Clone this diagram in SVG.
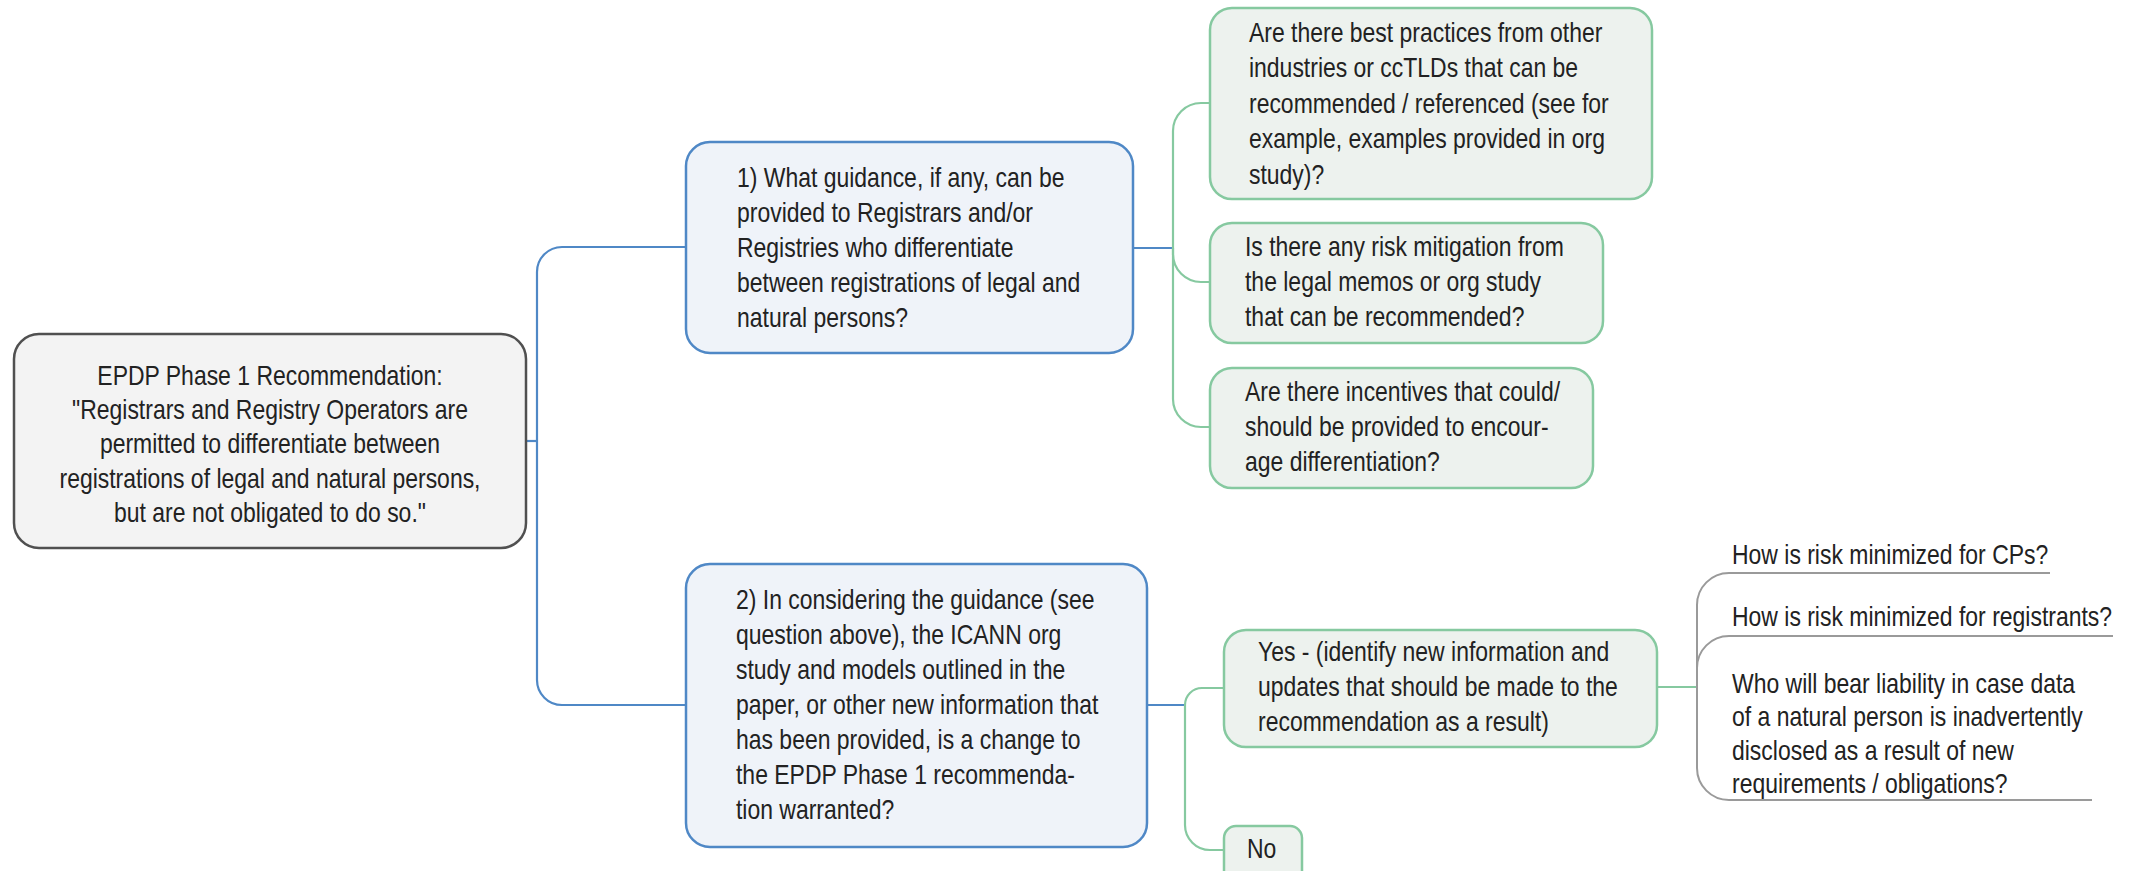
<svg xmlns="http://www.w3.org/2000/svg" width="2131" height="871" viewBox="0 0 2131 871">
<style>
  text { font-family: "Liberation Sans", Arial, sans-serif; font-size: 28px; fill: #222; }
  .root { fill: #f3f3f3; stroke: #505050; stroke-width: 2.5; }
  .blue { fill: #eff3f9; stroke: #4f88c6; stroke-width: 2.5; }
  .green { fill: #edf2ee; stroke: #86c9a0; stroke-width: 2.5; }
  .cb { fill: none; stroke: #4f88c6; stroke-width: 2.2; }
  .cg { fill: none; stroke: #86c9a0; stroke-width: 2.2; }
  .cy { fill: none; stroke: #9a9a9a; stroke-width: 2; }
  .mid { text-anchor: middle; }
</style>
<rect width="2131" height="871" fill="#ffffff"/>
<g id="connectors">
  <path class="cb" d="M526,441 H537"/>
  <path class="cb" d="M537,441 V272 A25,25 0 0 1 562,247 H686"/>
  <path class="cb" d="M537,441 V680 A25,25 0 0 0 562,705 H686"/>
  <path class="cb" d="M1133,248 H1173"/>
  <path class="cg" d="M1173,248 V131 A28,28 0 0 1 1201,103 H1210"/>
  <path class="cg" d="M1173,248 V254 A28,28 0 0 0 1201,282 H1210"/>
  <path class="cg" d="M1173,248 V399 A28,28 0 0 0 1201,427 H1210"/>
  <path class="cb" d="M1147,705 H1185"/>
  <path class="cg" d="M1185,705 A17,17 0 0 1 1202,688 H1224"/>
  <path class="cg" d="M1185,705 V825 A25,25 0 0 0 1210,850 H1224"/>
  <path class="cg" d="M1657,687 H1697"/>
  <path class="cy" d="M1697,687 V605 A32,32 0 0 1 1729,573 H2050"/>
  <path class="cy" d="M1697,687 V668 A32,32 0 0 1 1729,636 H2113"/>
  <path class="cy" d="M1697,687 V768 A32,32 0 0 0 1729,800 H2092"/>
</g>
<g id="root">
  <rect class="root" x="14" y="334" width="512" height="214" rx="25"/>
  <g transform="translate(270 0) scale(0.82 1) translate(-270 0)">
    <text class="mid" x="270" y="385">EPDP Phase 1 Recommendation:</text>
    <text class="mid" x="270" y="419">"Registrars and Registry Operators are</text>
    <text class="mid" x="270" y="453">permitted to differentiate between</text>
    <text class="mid" x="270" y="488">registrations of legal and natural persons,</text>
    <text class="mid" x="270" y="522">but are not obligated to do so."</text>
  </g>
</g>
<g id="q1">
  <rect class="blue" x="686" y="142" width="447" height="211" rx="24"/>
  <g transform="translate(737 0) scale(0.82 1) translate(-737 0)">
    <text x="737" y="187">1) What guidance, if any, can be</text>
    <text x="737" y="222">provided to Registrars and/or</text>
    <text x="737" y="257">Registries who differentiate</text>
    <text x="737" y="292">between registrations of legal and</text>
    <text x="737" y="327">natural persons?</text>
  </g>
</g>
<g id="q2">
  <rect class="blue" x="686" y="564" width="461" height="283" rx="24"/>
  <g transform="translate(736 0) scale(0.82 1) translate(-736 0)">
    <text x="736" y="609">2) In considering the guidance (see</text>
    <text x="736" y="644">question above), the ICANN org</text>
    <text x="736" y="679">study and models outlined in the</text>
    <text x="736" y="714">paper, or other new information that</text>
    <text x="736" y="749">has been provided, is a change to</text>
    <text x="736" y="784">the EPDP Phase 1 recommenda-</text>
    <text x="736" y="819">tion warranted?</text>
  </g>
</g>
<g id="a1">
  <rect class="green" x="1210" y="8" width="442" height="191" rx="22"/>
  <g transform="translate(1249 0) scale(0.82 1) translate(-1249 0)">
    <text x="1249" y="42">Are there best practices from other</text>
    <text x="1249" y="77">industries or ccTLDs that can be</text>
    <text x="1249" y="113">recommended / referenced (see for</text>
    <text x="1249" y="148">example, examples provided in org</text>
    <text x="1249" y="184">study)?</text>
  </g>
</g>
<g id="a2">
  <rect class="green" x="1210" y="223" width="393" height="120" rx="22"/>
  <g transform="translate(1245 0) scale(0.82 1) translate(-1245 0)">
    <text x="1245" y="256">Is there any risk mitigation from</text>
    <text x="1245" y="291">the legal memos or org study</text>
    <text x="1245" y="326">that can be recommended?</text>
  </g>
</g>
<g id="a3">
  <rect class="green" x="1210" y="368" width="383" height="120" rx="22"/>
  <g transform="translate(1245 0) scale(0.82 1) translate(-1245 0)">
    <text x="1245" y="401">Are there incentives that could/</text>
    <text x="1245" y="436">should be provided to encour-</text>
    <text x="1245" y="471">age differentiation?</text>
  </g>
</g>
<g id="yes">
  <rect class="green" x="1224" y="630" width="433" height="117" rx="22"/>
  <g transform="translate(1258 0) scale(0.82 1) translate(-1258 0)">
    <text x="1258" y="661">Yes - (identify new information and</text>
    <text x="1258" y="696">updates that should be made to the</text>
    <text x="1258" y="731">recommendation as a result)</text>
  </g>
</g>
<g id="no">
  <rect class="green" x="1224" y="826" width="78" height="70" rx="12"/>
  <g transform="translate(1247 0) scale(0.82 1) translate(-1247 0)">
    <text x="1247" y="858">No</text>
  </g>
</g>
<g id="r1">
  <g transform="translate(1732 0) scale(0.82 1) translate(-1732 0)">
    <text x="1732" y="564">How is risk minimized for CPs?</text>
  </g>
</g>
<g id="r2">
  <g transform="translate(1732 0) scale(0.82 1) translate(-1732 0)">
    <text x="1732" y="626">How is risk minimized for registrants?</text>
  </g>
</g>
<g id="r3">
  <g transform="translate(1732 0) scale(0.82 1) translate(-1732 0)">
    <text x="1732" y="693">Who will bear liability in case data</text>
    <text x="1732" y="726">of a natural person is inadvertently</text>
    <text x="1732" y="760">disclosed as a result of new</text>
    <text x="1732" y="793">requirements / obligations?</text>
  </g>
</g>
</svg>
